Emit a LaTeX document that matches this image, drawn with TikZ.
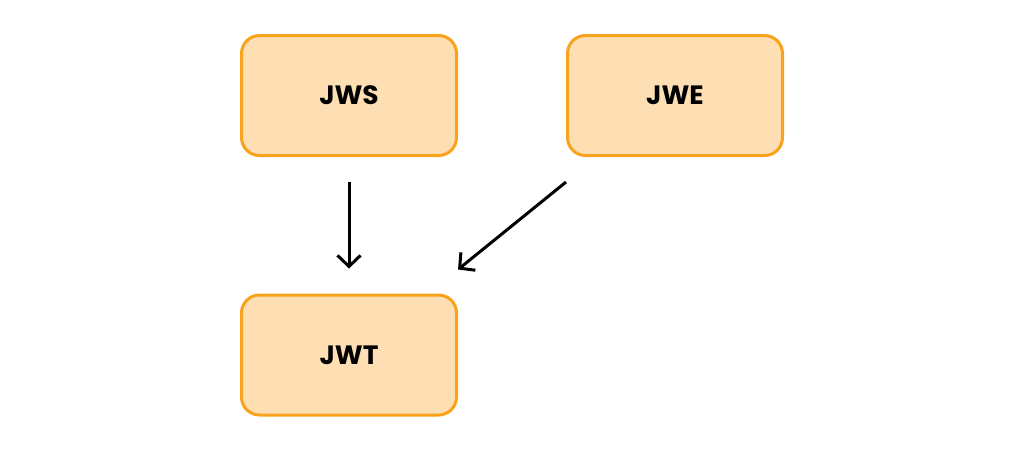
\documentclass[tikz,border=0pt]{standalone}
\usepackage{fontspec}
\setmainfont{Poppins}
\usetikzlibrary{arrows.meta}
\definecolor{boxfill}{HTML}{FDDFB3}
\definecolor{boxline}{HTML}{F9A21B}
\begin{document}
\begin{tikzpicture}[x=1pt,y=-1pt,
  box/.style={draw=boxline, fill=boxfill, line width=3pt, rounded corners=18pt,
    minimum width=215pt, minimum height=120pt, inner sep=0pt,
    font=\fontsize{26.5}{30}\selectfont\bfseries, text=black},
  conn/.style={line width=3pt, -{Straight Barb[length=11pt,width=23pt,line width=3pt]}}]
\useasboundingbox[fill=white] (0,0) rectangle (1024,451);
\node[box] (jws) at (349,95.5) {JWS};
\node[box] (jwe) at (675,95.5) {JWE};
\node[box] (jwt) at (349,355) {JWT};
\draw[conn] ([yshift=-25pt]jws.south) -- ([yshift=25pt]jwt.north);
\draw[conn] ([yshift=-25pt]jwe.south west) -- ([yshift=24pt]jwt.north east);
\end{tikzpicture}
\end{document}
